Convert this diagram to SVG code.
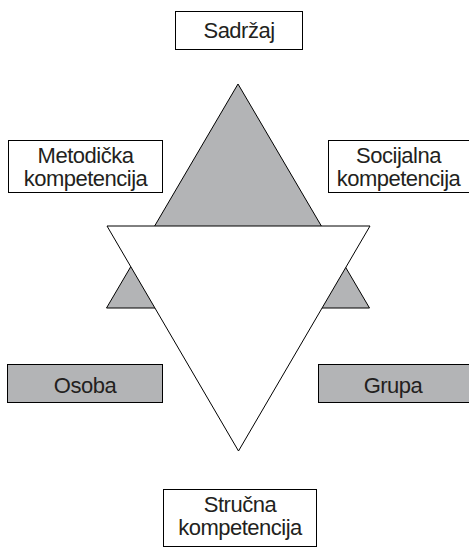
<svg xmlns="http://www.w3.org/2000/svg" width="469" height="547" viewBox="0 0 469 547">
<style>
.box{fill:#fff;stroke:#000;stroke-width:1}
.gbox{fill:#b3b4b6;stroke:#000;stroke-width:1}
.tri{stroke:#000;stroke-width:1;stroke-linejoin:miter}
text{font-family:"Liberation Sans",Arial,sans-serif;font-size:22px;letter-spacing:-0.5px;fill:#231f20;text-anchor:middle}
</style>
<rect width="469" height="547" fill="#fff"/>
<g id="shapes">
<polygon id="up-triangle" class="tri" points="238,84 369.5,308 106.5,308" fill="#b3b4b6"/>
<polygon id="down-triangle" class="tri" points="107,226 370,226 238.5,451" fill="#fff"/>
</g>
<g id="sadrzaj"><rect class="box" x="175.5" y="11.5" width="127" height="38"/><text x="239" y="37.5">Sadržaj</text></g>
<g id="metodicka"><rect class="box" x="8.5" y="140.5" width="154" height="52"/><text x="85.5" y="163">Metodička</text><text x="85.5" y="185.5">kompetencija</text></g>
<g id="socijalna"><rect class="box" x="328.5" y="140.5" width="141" height="52"/><text x="398.5" y="163">Socijalna</text><text x="398.5" y="185.5">kompetencija</text></g>
<g id="osoba"><rect class="gbox" x="7.5" y="364.5" width="155" height="38"/><text x="85" y="392.5">Osoba</text></g>
<g id="grupa"><rect class="gbox" x="318.5" y="364.5" width="151" height="38"/><text x="393" y="392.5">Grupa</text></g>
<g id="strucna"><rect class="box" x="163.5" y="489.5" width="153" height="57"/><text x="240" y="512">Stručna</text><text x="240" y="534.5">kompetencija</text></g>
<g id="connectors"></g>
</svg>
